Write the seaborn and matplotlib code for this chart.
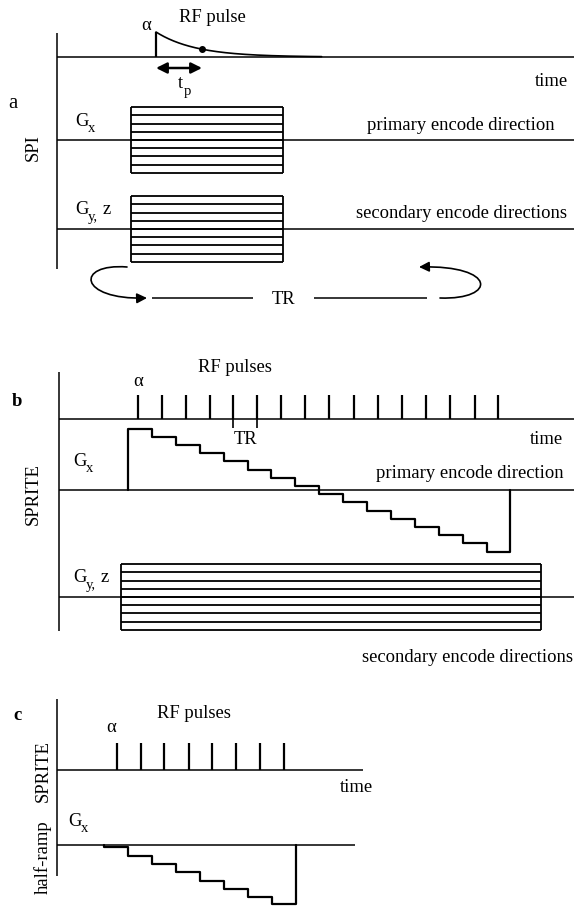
import numpy as np
import pandas as pd
import matplotlib
matplotlib.use("Agg")
import matplotlib.pyplot as plt
from matplotlib.path import Path
from matplotlib.patches import FancyArrowPatch
import seaborn as sns

# ---------------- sequence data ----------------
# (a) SPI: one RF pulse per repetition, gradient table stepped between repetitions
spi_encode_steps = [4, 3, 2, 1, 0, -1, -2, -3, -4]
spi_tp = 1.0                      # encoding time t_p
spi_t2star = 0.86                 # FID decay constant (units of t_p)
spi_gradient_window = (-0.55, 2.75)

# (b) SPRITE: RF pulse train (times in TR) under a stepped primary gradient
sprite_pulse_times = [0.42, 1.42, 2.43, 3.43, 4.40, 5.40, 6.40, 7.40,
                      8.42, 9.45, 10.46, 11.46, 12.47, 13.47, 14.50, 15.48]
sprite_gx_levels = [7.5, 6.5, 5.5, 4.5, 3.5, 2.5, 1.5, 0.5,
                    -0.5, -1.5, -2.5, -3.5, -4.5, -5.5, -6.5, -7.5]
sprite_gyz_steps = [4, 3, 2, 1, 0, -1, -2, -3, -4]
sprite_gyz_window = (-0.3, 17.3)
sprite_tr_marker = (4, 5)         # pulses bracketing the TR label

# (c) half-ramp SPRITE
half_pulse_times = [0.54, 1.54, 2.50, 3.54, 4.50, 5.50, 6.50, 7.50]
half_gx_levels = [-0.25, -1.3, -2.35, -3.3, -4.35, -5.35, -6.3, -7.2]

# ---------------- layout (pixels) ----------------
W, H = 574, 906
FS = 13.4
SUB = 10.5
LW_AX = 1.1
LW_MARK = 1.6
GRAD_UNIT = 8.2                   # px per gradient amplitude unit

sns.set_theme(style="white")
plt.rcParams["font.family"] = ["Liberation Serif", "DejaVu Serif"]

fig = plt.figure(figsize=(W / 100, H / 100), dpi=100)
ax = fig.add_axes([0, 0, 1, 1])
ax.set_axis_off()

K = "black"


def txt(x, y, s, **kw):
    kw.setdefault("fontsize", FS)
    kw.setdefault("ha", "center")
    kw.setdefault("va", "center")
    ax.text(x, y, s, color=K, **kw)


def grad_label(x, y, sub, tail=None):
    """G with a subscript axis name; x, y is the centre of the G."""
    txt(x, y, "G")
    ax.text(x + 6, y + 7, sub, color=K, fontsize=SUB, ha="left", va="center")
    if tail is not None:
        ax.text(x + 6 + 5.5 * len(sub) + 4, y, tail, color=K, fontsize=FS,
                ha="left", va="center")


def hline(y, x0, x1, lw=LW_AX):
    ax.plot([x0, x1], [y, y], color=K, lw=lw, solid_capstyle="butt")


def vline(x, y0, y1, lw=LW_AX):
    ax.plot([x, x], [y0, y1], color=K, lw=lw, solid_capstyle="butt")


def encode_box(x0, x1, base, steps):
    ys = [base - s * GRAD_UNIT for s in steps]
    ax.hlines(ys, x0, x1, colors=K, lw=1.3)
    vline(x0, min(ys), max(ys), lw=1.3)
    vline(x1, min(ys), max(ys), lw=1.3)


def stair(x0, dx, base, levels, lw=LW_MARK):
    n = len(levels)
    t = [0.0] + [float(k) for k in range(n)] + [float(n), float(n)]
    a = [0.0] + list(levels) + [levels[-1], 0.0]
    df = pd.DataFrame({"x": [x0 + ti * dx for ti in t],
                       "y": [base - ai * GRAD_UNIT for ai in a]})
    sns.lineplot(data=df, x="x", y="y", estimator=None, sort=False,
                 drawstyle="steps-post", color=K, lw=lw, ax=ax)


# ================= (a) SPI =================
a_axis_x, a_rf, a_gx, a_gyz = 57, 57, 140, 229
a_t0, a_dt = 156, 46              # pulse position and px per t_p
vline(a_axis_x, 33, 269)
hline(a_rf, a_axis_x, W)
hline(a_gx, a_axis_x, W)
hline(a_gyz, a_axis_x, W)

# RF pulse and FID
rf_h = 25
vline(a_t0, a_rf, a_rf - rf_h, lw=LW_MARK)
tt = np.linspace(0, 3.6, 300)
ax.plot(a_t0 + tt * a_dt, a_rf - rf_h * np.exp(-tt / spi_t2star), color=K, lw=1.2)
ax.plot([a_t0 + spi_tp * a_dt], [a_rf - rf_h * np.exp(-spi_tp / spi_t2star)],
        "o", color=K, ms=4)
ax.annotate("", xy=(a_t0 + spi_tp * a_dt, 68), xytext=(a_t0, 68),
            arrowprops=dict(arrowstyle="<|-|>", color=K, lw=1.8,
                            mutation_scale=16, shrinkA=0, shrinkB=0))
txt(180, 84, "t")
ax.text(184, 91, "p", color=K, fontsize=SUB, ha="left", va="center")
txt(146, 26, "α")
txt(212, 17, "RF pulse")
txt(551, 81, "time")

gx0 = a_t0 + spi_gradient_window[0] * a_dt
gx1 = a_t0 + spi_gradient_window[1] * a_dt
encode_box(gx0, gx1, a_gx, spi_encode_steps)
encode_box(gx0, gx1, a_gyz, spi_encode_steps)

txt(13, 103, "a", fontsize=FS + 1.5)
txt(33, 148, "SPI", rotation=90)
grad_label(82, 122, "x")
txt(461, 125, "primary encode direction")
grad_label(82, 210, "y,", "z")
txt(461, 213, "secondary encode directions")

# TR loop
left = Path([(127, 267), (75, 263), (78, 300), (147, 298)],
            [Path.MOVETO, Path.CURVE4, Path.CURVE4, Path.CURVE4])
right = Path([(440, 298), (497, 300), (497, 265), (419, 267)],
             [Path.MOVETO, Path.CURVE4, Path.CURVE4, Path.CURVE4])
for p in (left, right):
    ax.add_patch(FancyArrowPatch(path=p, arrowstyle="-|>", color=K, lw=1.2,
                                 mutation_scale=15))
hline(298, 152, 253)
hline(298, 314, 427)
txt(284, 300, "TR")

# ================= (b) SPRITE =================
b_axis_x, b_rf, b_gx, b_gyz = 59, 419, 490, 597
b_t0, b_dt = 128, 23.9
vline(b_axis_x, 372, 631)
hline(b_rf, b_axis_x, W)
hline(b_gx, b_axis_x, W)
hline(b_gyz, b_axis_x, W)

b_px = [b_t0 + t * b_dt for t in sprite_pulse_times]
ax.vlines(b_px, b_rf - 24, b_rf, colors=K, lw=LW_MARK)
for i in sprite_tr_marker:
    vline(b_px[i], b_rf, b_rf + 9, lw=1.2)
txt(sum(b_px[i] for i in sprite_tr_marker) / 2, 439, "TR")
txt(b_px[0], 382, "α")
txt(235, 367, "RF pulses")
txt(546, 439, "time")

stair(b_t0, b_dt, b_gx, sprite_gx_levels)
encode_box(b_t0 + sprite_gyz_window[0] * b_dt, b_t0 + sprite_gyz_window[1] * b_dt,
           b_gyz, sprite_gyz_steps)

txt(17, 401, "b", fontweight="bold")
txt(33, 494, "SPRITE", rotation=90)
grad_label(80, 462, "x")
txt(470, 474, "primary encode direction")
grad_label(80, 578, "y,", "z")
txt(468, 657, "secondary encode directions")

# ================= (c) half-ramp SPRITE =================
c_axis_x, c_rf, c_gx = 57, 770, 845
c_t0, c_dt = 104, 24
vline(c_axis_x, 699, 876)
hline(c_rf, c_axis_x, 363)
hline(c_gx, c_axis_x, 355)

c_px = [c_t0 + t * c_dt for t in half_pulse_times]
ax.vlines(c_px, c_rf - 27, c_rf, colors=K, lw=LW_MARK)
txt(c_px[0] - 6, 727, "α")
txt(194, 714, "RF pulses")
txt(356, 787, "time")

stair(c_t0, c_dt, c_gx, half_gx_levels)

txt(18, 716, "c", fontweight="bold")
txt(43, 771, "SPRITE", rotation=90)
txt(43, 857, "half-ramp", rotation=90)
grad_label(75, 822, "x")

ax.set_xlim(0, W)
ax.set_ylim(H, 0)
ax.set_xlabel("")
ax.set_ylabel("")
fig.savefig("out.png", dpi=100, facecolor="white")
